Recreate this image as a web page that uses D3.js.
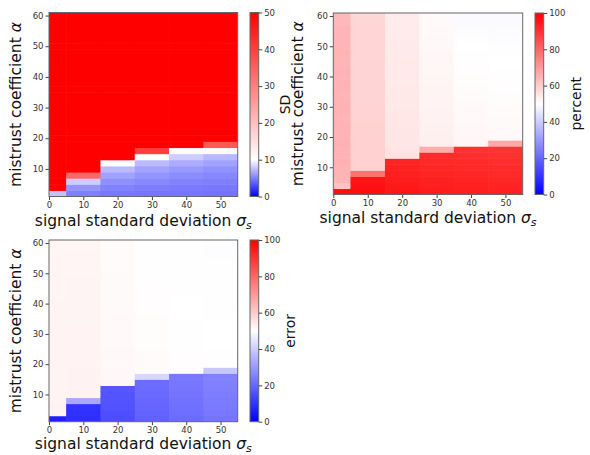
<!DOCTYPE html>
<html lang="en">
<head>
<meta charset="UTF-8"/>
<title>mistrust heatmaps</title>
<script src="https://d3js.org/d3.v7.min.js"></script>
<style>
	body { margin:0; background:#fff; }
	text { font-family: "DejaVu Sans", sans-serif; }
</style>
</head>
<body>
<script>
// signal standard deviation (columns) and mistrust coefficient (rows, bottom to top)
var sigmaValues = [0, 10, 20, 30, 40, 50];
var alphaValues = [2, 4, 6, 8, 10, 12, 14, 16, 18, 20, 22, 24, 26, 28, 30,
                   32, 34, 36, 38, 40, 42, 44, 46, 48, 50, 52, 54, 56, 58, 60];
var xTicks = [0, 10, 20, 30, 40, 50];
var yTicks = [10, 20, 30, 40, 50, 60];

// SD, one array per sigma column
var sdS0  = [7.6, 61, 74, 88, 97, 105, 112, 118, 124, 129, 133, 137, 141, 144, 147, 150, 152, 155, 157, 159, 161, 163, 165, 166, 168, 169, 171, 172, 173, 175];
var sdS10 = [5.0, 5.8, 8.0, 34, 58, 69, 79, 88, 95, 102, 108, 113, 118, 122, 126, 130, 133, 136, 139, 142, 144, 147, 149, 151, 153, 155, 156, 158, 160, 161];
var sdS20 = [4.7, 5.1, 5.6, 6.3, 7.3, 10.3, 55, 64, 72, 80, 87, 93, 98, 103, 108, 112, 116, 119, 123, 126, 129, 131, 134, 136, 139, 141, 143, 145, 147, 148];
var sdS30 = [4.6, 4.9, 5.3, 5.8, 6.4, 7.3, 10.3, 40, 57, 65, 73, 80, 86, 92, 97, 102, 106, 110, 114, 117, 121, 124, 127, 129, 132, 134, 137, 139, 141, 143];
var sdS40 = [4.6, 4.8, 5.1, 5.5, 6.0, 6.7, 8.0, 11.0, 53, 61, 68, 75, 81, 87, 92, 97, 101, 105, 109, 113, 116, 119, 122, 125, 128, 130, 133, 135, 137, 139];
var sdS50 = [4.5, 4.7, 5.0, 5.3, 5.7, 6.3, 7.2, 9.8, 36, 56, 63, 70, 76, 82, 87, 92, 96, 100, 104, 108, 111, 114, 117, 120, 123, 125, 128, 130, 132, 134];

// percent
var pcS0  = [97, 62, 64.5, 65, 65, 65.5, 65, 65, 65.5, 65, 65, 65, 64.5, 65, 65, 65, 64.5, 65, 65, 64.5, 65, 64.5, 64.5, 65, 64.5, 64.5, 64.5, 64.5, 64, 64];
var pcS10 = [97, 96.5, 96, 78, 59.5, 59, 59, 59, 59, 58.8, 58.8, 58.8, 58.6, 58.6, 58.6, 58.5, 58.5, 58.5, 58.5, 58.4, 58.4, 58.4, 58.3, 58.3, 58.3, 58.2, 58.2, 58.2, 58.1, 58.1];
var pcS20 = [95.5, 95, 94.5, 94, 93.5, 93, 55.5, 55.2, 55, 55, 54.9, 54.8, 54.8, 54.7, 54.6, 54.6, 54.5, 54.5, 54.4, 54.4, 54.3, 54.3, 54.2, 54.2, 54.1, 54.1, 54, 54, 53.9, 53.9];
var pcS30 = [94.5, 94, 93.5, 93, 92.5, 92, 91.5, 66, 53, 52.9, 52.8, 52.7, 52.6, 52.5, 52.4, 52.3, 52.2, 52.1, 52, 51.9, 51.8, 51.7, 51.6, 51.5, 51.4, 51.3, 51.2, 51.1, 51, 50.9];
var pcS40 = [94, 93.5, 93, 92.5, 92, 91.5, 91, 90.5, 51.6, 51.5, 51.4, 51.3, 51.2, 51.1, 51, 50.9, 50.8, 50.7, 50.6, 50.5, 50.4, 50.3, 50.2, 50.1, 50, 49.8, 49.6, 49.4, 49.3, 49.2];
var pcS50 = [93.5, 93, 92.5, 92, 91.5, 91, 90.5, 90, 67, 51.2, 51.1, 51, 50.9, 50.8, 50.7, 50.6, 50.5, 50.4, 50.3, 50.2, 50.1, 50, 50, 49.9, 49.9, 49.6, 49.5, 49.4, 49.3, 49.3];

// error
var erS0  = [6, 52.5, 52.5, 52.4, 52.4, 52.4, 52.3, 52.3, 52.3, 52.3, 52.2, 52.2, 52.2, 52.2, 52.2, 52.1, 52.1, 52.1, 52.1, 52.1, 52, 52, 52, 52, 52, 52, 52, 51.9, 51.9, 51.9];
var erS10 = [9, 9.5, 10, 33, 52.6, 52.6, 52.5, 52.5, 52.5, 52.4, 52.4, 52.4, 52.3, 52.3, 52.3, 52.3, 52.2, 52.2, 52.2, 52.2, 52.1, 52.1, 52.1, 52.1, 52, 52, 52, 52, 52, 51.9];
var erS20 = [15, 15.5, 16, 16.2, 16.5, 17, 51.5, 51.4, 51.4, 51.3, 51.3, 51.3, 51.2, 51.2, 51.2, 51.1, 51.1, 51.1, 51, 51, 51, 51, 50.9, 50.9, 50.9, 50.8, 50.8, 50.8, 50.8, 50.7];
var erS30 = [19, 19.5, 20, 20.2, 20.5, 21, 21.2, 42, 50.8, 50.8, 50.7, 50.7, 50.6, 50.6, 50.6, 50.5, 50.5, 50.5, 50.4, 50.4, 50.4, 50.3, 50.3, 50.3, 50.2, 50.2, 50.2, 50.1, 50.1, 50.1];
var erS40 = [21, 21.5, 22, 22.2, 22.5, 23, 23.2, 23.5, 50.3, 50.3, 50.3, 50.2, 50.2, 50.2, 50.1, 50.1, 50.1, 50, 50, 50, 50, 49.9, 49.9, 49.9, 49.9, 49.8, 49.8, 49.8, 49.8, 49.8];
var erS50 = [23, 23.5, 24, 24.2, 24.5, 25, 25.2, 25.5, 39, 50.1, 50.1, 50.1, 50, 50, 50, 50, 50, 49.9, 49.9, 49.9, 49.9, 49.9, 49.8, 49.8, 49.8, 49.8, 49.8, 49.7, 49.7, 49.7];

var cbTicksSD = [0, 10, 20, 30, 40, 50];
var cbTicksPct = [0, 20, 40, 60, 80, 100];

var W = 590, H = 455;
var svg = d3.select("body").append("svg")
	.attr("width", W)
	.attr("height", H);

var panels = [
	{ cols: [sdS0, sdS10, sdS20, sdS30, sdS40, sdS50], norm: [0, 10, 50], cbTicks: cbTicksSD, cbLabel: "SD",
	  x0: 49, y0: 12.5, x1: 237.7, y1: 196.5, cbX: 250, xLabY: 225.5, yLabX: 20.5, cbLabX: 290 },
	{ cols: [pcS0, pcS10, pcS20, pcS30, pcS40, pcS50], norm: [0, 50, 100], cbTicks: cbTicksPct, cbLabel: "percent",
	  x0: 333.3, y0: 13, x1: 522.7, y1: 194.5, cbX: 535, xLabY: 222.5, yLabX: 303, cbLabX: 581 },
	{ cols: [erS0, erS10, erS20, erS30, erS40, erS50], norm: [0, 50, 100], cbTicks: cbTicksPct, cbLabel: "error",
	  x0: 49, y0: 240, x1: 237.7, y1: 421.7, cbX: 250, xLabY: 448.5, yLabX: 20.5, cbLabX: 295 }
];

var defs = svg.append("defs");

panels.forEach(function(p, pi) {
	var x = d3.scaleLinear().domain([0, 55]).range([p.x0, p.x1]);
	var y = d3.scaleLinear().domain([1, 61]).range([p.y1, p.y0]);
	// bwr colormap, white at the centre value
	var color = d3.scaleLinear().domain(p.norm)
		.range(["#0000ff", "#ffffff", "#ff0000"]).clamp(true);

	var cells = [];
	sigmaValues.forEach(function(s, i) {
		alphaValues.forEach(function(a, j) {
			cells.push({ s: s, a: a, v: p.cols[i][j] });
		});
	});

	var g = svg.append("g");

	//------------cells-------------
	// each cell overlaps the one above it a little so no seams show
	g.selectAll("rect.cell")
		.data(cells)
		.enter()
		.append("rect")
		.attr("class", "cell")
		.attr("x", function(d) { return x(Math.max(0, d.s - 5)); })
		.attr("y", function(d) { return y(d.a + 1); })
		.attr("width", function(d) { return x(d.s + 5) - x(Math.max(0, d.s - 5)) + (d.s < 50 ? 0.6 : 0); })
		.attr("height", function(d) { return y(d.a - 1) - y(d.a + 1) + (d.a > 2 ? 0.6 : 0); })
		.attr("fill", function(d) { return color(d.v); });

	//------------axes-------------
	var xAxis = g.append("g")
		.attr("transform", "translate(0," + p.y1 + ")")
		.call(d3.axisBottom(x).tickValues(xTicks).tickSize(3.5).tickPadding(2));
	var yAxis = g.append("g")
		.attr("transform", "translate(" + p.x0 + ",0)")
		.call(d3.axisLeft(y).tickValues(yTicks).tickSize(3.5).tickPadding(2));
	[xAxis, yAxis].forEach(function(ax) {
		ax.select(".domain").remove();
		ax.selectAll("line").attr("stroke", "#444");
		ax.selectAll("text").attr("fill", "#333").style("font-size", "8.5px")
			.style("font-family", "DejaVu Sans");
	});

	g.append("rect")
		.attr("x", p.x0).attr("y", p.y0)
		.attr("width", p.x1 - p.x0).attr("height", p.y1 - p.y0)
		.attr("fill", "none").attr("stroke", "#666").attr("stroke-width", 1);

	// x label with italic sigma_s
	var xl = g.append("text")
		.attr("x", (p.x0 + p.x1) / 2)
		.attr("y", p.xLabY)
		.attr("text-anchor", "middle")
		.attr("fill", "#111")
		.style("font-size", "15.5px");
	xl.append("tspan").text("signal standard deviation ");
	xl.append("tspan").attr("font-style", "italic").text("σ");
	xl.append("tspan").attr("font-style", "italic").attr("dy", 3.5)
		.style("font-size", "11px").text("s");

	var yl = g.append("text")
		.attr("transform", "translate(" + p.yLabX + "," + ((p.y0 + p.y1) / 2) + ") rotate(-90)")
		.attr("text-anchor", "middle")
		.attr("fill", "#111")
		.style("font-size", "15.5px");
	yl.append("tspan").text("mistrust coefficient ");
	yl.append("tspan").attr("font-style", "italic").text("α");

	//------------colorbar-------------
	var cbW = 8.7;
	var cy = d3.scaleLinear().domain([p.norm[0], p.norm[2]]).range([p.y1, p.y0]);
	var grad = defs.append("linearGradient")
		.attr("id", "cb" + pi)
		.attr("x1", 0).attr("y1", 1).attr("x2", 0).attr("y2", 0);
	p.norm.forEach(function(v) {
		grad.append("stop")
			.attr("offset", (v - p.norm[0]) / (p.norm[2] - p.norm[0]))
			.attr("stop-color", color(v));
	});
	g.append("rect")
		.attr("x", p.cbX).attr("y", p.y0)
		.attr("width", cbW).attr("height", p.y1 - p.y0)
		.attr("fill", "url(#cb" + pi + ")")
		.attr("stroke", "#666").attr("stroke-width", 1);
	var cbAxis = g.append("g")
		.attr("transform", "translate(" + (p.cbX + cbW) + ",0)")
		.call(d3.axisRight(cy).tickValues(p.cbTicks).tickSize(3.5).tickPadding(2));
	cbAxis.select(".domain").remove();
	cbAxis.selectAll("line").attr("stroke", "#444");
	cbAxis.selectAll("text").attr("fill", "#333").style("font-size", "8.5px")
		.style("font-family", "DejaVu Sans");

	g.append("text")
		.attr("transform", "translate(" + p.cbLabX + "," + ((p.y0 + p.y1) / 2) + ") rotate(-90)")
		.attr("text-anchor", "middle")
		.attr("fill", "#111")
		.style("font-size", "14px")
		.text(p.cbLabel);
});
</script>
</body>
</html>
